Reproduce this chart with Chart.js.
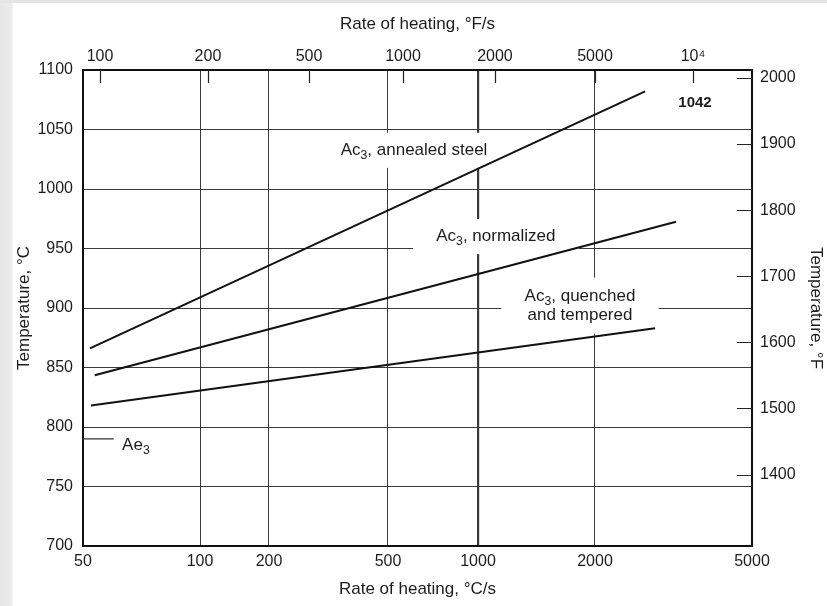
<!DOCTYPE html>
<html>
<head>
<meta charset="utf-8">
<script src="https://cdn.jsdelivr.net/npm/chart.js@4.4.1/dist/chart.umd.min.js"></script>
<style>
  html, body { margin: 0; padding: 0; }
  body {
    width: 827px; height: 606px; overflow: hidden;
    background: linear-gradient(to right, #e6e6e6 0, #ececec 12px, #ffffff 13px);
  }
  #wrap { position: absolute; left: 0; top: 0; width: 827px; height: 606px; }
  #wrap::before { content: ''; position: absolute; left: 0; top: 0; width: 827px; height: 3px; background: #e4e4e4; }
</style>
</head>
<body>
<div id="wrap"><canvas id="heatChart" width="827" height="606"></canvas></div>
<script>
// rate of heating, deg C/s (bottom) and temperature, deg C (left)
const annealedRate = [52.1, 2680];
const annealedTemp = [866, 1082];
const normalizedRate = [53.6, 3210];
const normalizedTemp = [843.5, 972.5];
const quenchedRate = [52.4, 2840];
const quenchedTemp = [818, 883];
const ae3Rate = [50, 60];
const ae3Temp = [790, 790];

const rateTicksC = [50, 100, 200, 500, 1000, 2000, 5000];
const rateTicksF = [100, 200, 500, 1000, 2000, 5000, 10000];
const tempTicksC = [700, 750, 800, 850, 900, 950, 1000, 1050, 1100];
const tempTicksF = [1400, 1500, 1600, 1700, 1800, 1900, 2000];

const labelTexts = ['Ac_3, annealed steel', 'Ac_3, normalized', 'Ac_3, quenched|and tempered', '1042', 'Ae_3'];
const labelRates = [611, 1112, 1830, 3585, 68.4];
const labelTemps = [1032.5, 960, 902, 1072, 785];

const FONT = "'Liberation Sans', Arial, Helvetica, sans-serif";
const INK = '#1c1c1c';

// the printed rate axes are not evenly logarithmic, so the scale follows the printed grid
class KnotScale extends Chart.LinearScale {
    determineDataLimits() {
        const kv = this.options.knotValues;
        this.min = kv[0];
        this.max = kv[kv.length - 1];
    }
    buildTicks() {
        return this.options.tickValues.map(v => ({value: v}));
    }
    _frac(v) {
        const kv = this.options.knotValues, kf = this.options.knotFracs;
        const lv = Math.log10(Math.max(v, 1e-9));
        let i = 0;
        while (i < kv.length - 2 && v > kv[i + 1]) i++;
        const a = Math.log10(kv[i]), b = Math.log10(kv[i + 1]);
        return kf[i] + (lv - a) / (b - a) * (kf[i + 1] - kf[i]);
    }
    getPixelForValue(v) {
        return this.getPixelForDecimal(this._frac(v));
    }
    getValueForPixel(p) {
        const kv = this.options.knotValues, kf = this.options.knotFracs;
        const f = this.getDecimalForPixel(p);
        let i = 0;
        while (i < kf.length - 2 && f > kf[i + 1]) i++;
        const t = (f - kf[i]) / (kf[i + 1] - kf[i]);
        return Math.pow(10, Math.log10(kv[i]) + t * (Math.log10(kv[i + 1]) - Math.log10(kv[i])));
    }
}
KnotScale.id = 'knots';
KnotScale.defaults = Chart.LinearScale.defaults;
Chart.register(KnotScale);

function pts(xs, ys) {
    return xs.map((x, i) => ({x: x, y: ys[i]}));
}

function drawRich(ctx, text, cx, cy, size, weight) {
    // "_3" is drawn as a subscript 3
    const parts = text.split(/_(\d)/);
    const fontOf = (sub) => weight + ' ' + (sub ? size * 0.72 : size) + 'px ' + FONT;
    let w = 0;
    parts.forEach((p, i) => { ctx.font = fontOf(i % 2 === 1); w += ctx.measureText(p).width; });
    let x = cx - w / 2;
    parts.forEach((p, i) => {
        const sub = i % 2 === 1;
        ctx.font = fontOf(sub);
        ctx.fillText(p, x, sub ? cy + size * 0.32 : cy);
        x += ctx.measureText(p).width;
    });
    return w;
}

const curveLabels = {
    id: 'curveLabels',
    beforeDatasetsDraw(chart) {
        const {ctx, scales: {x, y}} = chart;
        ctx.save();
        ctx.textBaseline = 'middle';
        ctx.textAlign = 'left';
        labelTexts.forEach((txt, i) => {
            const cx = x.getPixelForValue(labelRates[i]);
            const cy = y.getPixelForValue(labelTemps[i]);
            const lines = txt.split('|');
            const bold = txt === '1042';
            const size = bold ? 15 : 17;
            const lh = 19;
            if (i < 3) {
                // white knock-out behind the label, as in the print
                ctx.font = size + 'px ' + FONT;
                const w = Math.max(...lines.map(l => ctx.measureText(l.replace('_', '')).width));
                const padX = i === 0 ? 6 : 22;
                const padY = i === 2 ? 17 : 16;
                const h = lines.length * lh;
                ctx.fillStyle = '#ffffff';
                ctx.fillRect(cx - w / 2 - padX, cy - h / 2 - padY + 8, w + padX * 2, h + padY * 2 - 16);
            }
            ctx.fillStyle = INK;
            lines.forEach((l, k) => {
                drawRich(ctx, l, cx, cy + (k - (lines.length - 1) / 2) * lh, size, bold ? 'bold' : 'normal');
            });
        });
        ctx.restore();
    }
};

const innerTicks = {
    id: 'innerTicks',
    afterDatasetsDraw(chart) {
        const {ctx, chartArea: a, scales: {xF, yF}} = chart;
        ctx.save();
        ctx.strokeStyle = '#222';
        ctx.lineWidth = 1.2;
        ctx.beginPath();
        xF.ticks.forEach(t => {
            const px = Math.round(xF.getPixelForValue(t.value)) + 0.5;
            ctx.moveTo(px, a.top);
            ctx.lineTo(px, a.top + 13);
        });
        yF.ticks.forEach(t => {
            const py = Math.round(yF.getPixelForValue(t.value)) + 0.5;
            ctx.moveTo(a.right - 15, py);
            ctx.lineTo(a.right, py);
        });
        ctx.stroke();
        ctx.restore();
    }
};

const lineStyle = {pointRadius: 0, borderColor: '#111', borderWidth: 2, fill: false, tension: 0};

const tickFont = {family: FONT, size: 16};
const titleFont = {family: FONT, size: 17};
const plain = (v) => String(v);

let ctx = document.getElementById('heatChart').getContext('2d');

new Chart(ctx, {
    type: 'line',
    data: {
        datasets: [
            Object.assign({label: 'Ac3, annealed steel', data: pts(annealedRate, annealedTemp)}, lineStyle),
            Object.assign({label: 'Ac3, normalized', data: pts(normalizedRate, normalizedTemp)}, lineStyle),
            Object.assign({label: 'Ac3, quenched and tempered', data: pts(quenchedRate, quenchedTemp)}, lineStyle),
            Object.assign({}, lineStyle, {label: 'Ae3', data: pts(ae3Rate, ae3Temp), borderWidth: 1.2, borderColor: '#333'})
        ]
    },
    options: {
        responsive: false,
        animation: false,
        layout: {padding: 0},
        plugins: {
            legend: {display: false},
            tooltip: {enabled: false}
        },
        scales: {
            x: {
                type: 'knots',
                position: 'bottom',
                knotValues: rateTicksC,
                knotFracs: [0, 0.1749, 0.278, 0.4559, 0.5904, 0.7653, 1],
                tickValues: rateTicksC,
                grid: {
                    color: '#3a3a3a',
                    drawTicks: false,
                    lineWidth: (c) => (c.tick && c.tick.value === 1000 ? 2.2 : 1)
                },
                border: {display: true, color: '#111', width: 2},
                ticks: {
                    autoSkip: false, maxRotation: 0, padding: 6,
                    color: INK, font: tickFont,
                    callback: plain
                },
                title: {display: true, text: 'Rate of heating, °C/s', color: INK, font: titleFont, padding: {top: 0, bottom: 6}},
                afterFit: (s) => { s.height = 60; }
            },
            xF: {
                type: 'knots',
                position: 'top',
                knotValues: [89.6, 100, 200, 500, 1000, 2000, 5000, 10000, 15170],
                knotFracs: [0, 0.0254, 0.1868, 0.3378, 0.4783, 0.6158, 0.7653, 0.9118, 1],
                tickValues: rateTicksF,
                grid: {drawOnChartArea: false, drawTicks: false},
                border: {display: true, color: '#111', width: 2},
                ticks: {
                    autoSkip: false, maxRotation: 0, padding: 4,
                    color: INK, font: tickFont,
                    callback: (v) => (v === 10000 ? '10⁴' : String(v))
                },
                title: {display: true, text: 'Rate of heating, °F/s', color: INK, font: titleFont, padding: {top: 14, bottom: 0}},
                afterFit: (s) => { s.height = 70; }
            },
            y: {
                type: 'linear',
                position: 'left',
                min: 700,
                max: 1100,
                afterBuildTicks: (s) => { s.ticks = tempTicksC.map(v => ({value: v})); },
                grid: {color: '#3a3a3a', lineWidth: 1, drawTicks: false},
                border: {display: true, color: '#111', width: 2},
                ticks: {padding: 10, color: INK, font: tickFont, callback: plain},
                title: {display: true, text: 'Temperature, °C', color: INK, font: titleFont, padding: {top: 14, bottom: 0}},
                afterFit: (s) => { s.width = 83; }
            },
            yF: {
                type: 'linear',
                position: 'right',
                min: 700 * 1.8 + 32,
                max: 1100 * 1.8 + 32,
                afterBuildTicks: (s) => { s.ticks = tempTicksF.map(v => ({value: v})); },
                grid: {drawOnChartArea: false, drawTicks: false},
                border: {display: true, color: '#111', width: 2},
                ticks: {padding: 8, color: INK, font: tickFont, callback: plain},
                title: {display: true, text: 'Temperature, °F', color: INK, font: titleFont, padding: {top: 1, bottom: 0}},
                afterFit: (s) => { s.width = 75; }
            }
        }
    },
    plugins: [curveLabels, innerTicks]
});
</script>
</body>
</html>
